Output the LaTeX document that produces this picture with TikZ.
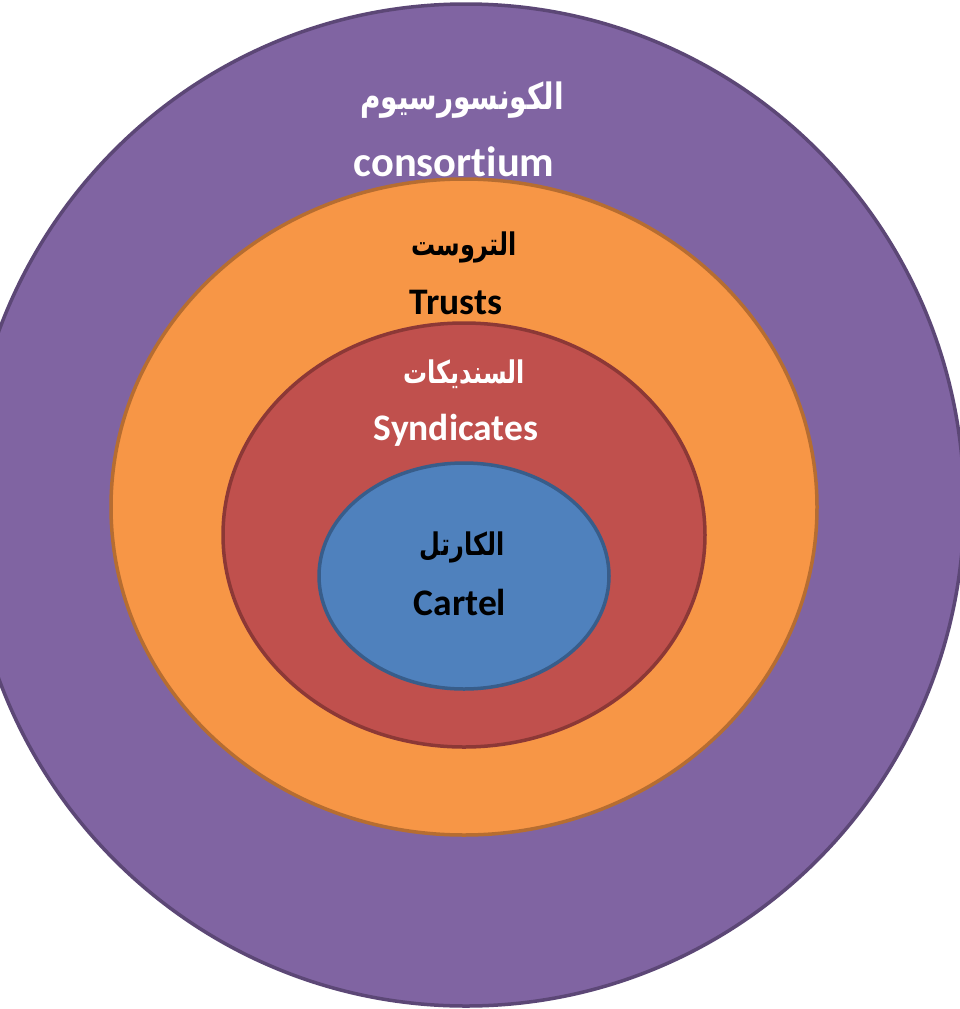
\documentclass[tikz,border=0pt]{standalone}
\usepackage{fontspec}
\usepackage{graphicx}
\setmainfont{Carlito}[Ligatures=NoCommon]
\newfontfamily\arabicfont[Script=Arabic]{DejaVu Sans}
\TeXXeTstate=1
\newcommand{\artxt}[1]{\scalebox{1}[1.3]{\arabicfont\beginR #1\endR}}
\definecolor{cpurple}{HTML}{8064A2}
\definecolor{cpurpleb}{HTML}{5C4776}
\definecolor{corange}{HTML}{F79646}
\definecolor{coranged}{HTML}{B66D31}
\definecolor{cred}{HTML}{C0504D}
\definecolor{credb}{HTML}{8C3836}
\definecolor{cblue}{HTML}{4F81BD}
\definecolor{cblueb}{HTML}{385D8A}
\tikzset{
  ring/.style={line width=3.5pt},
  lat/.style={font=\fontsize{37.5}{44}\selectfont\bfseries, inner sep=0pt},
  latbig/.style={font=\fontsize{42.5}{50}\selectfont\bfseries, inner sep=0pt},
  arabig/.style={font=\fontsize{28}{34}\selectfont\bfseries, inner sep=0pt},
  ara/.style={font=\fontsize{24}{30}\selectfont\bfseries, inner sep=0pt},
}
\begin{document}
\begin{tikzpicture}[x=1pt,y=-1pt]
\useasboundingbox (0,0) rectangle (960,1009);
\fill[white] (0,0) rectangle (960,1009);
\draw[ring, fill=cpurple, draw=cpurpleb] (466,505) ellipse [x radius=498, y radius=501];
\draw[ring, fill=corange, draw=coranged] (464,507) ellipse [x radius=353, y radius=328];
\draw[ring, fill=cred, draw=credb] (464,535) ellipse [x radius=241, y radius=212];
\draw[ring, fill=cblue, draw=cblueb] (464,576) ellipse [x radius=145, y radius=113];
\node[arabig, text=white] (ar1) at (462,100) {\artxt{الكونسورسيوم}};
\node[latbig, text=white] (en1) at (454,162) {consor\kern0pt tium};
\node[ara, text=black] (ar2) at (464,247) {\artxt{التروست}};
\node[lat, text=black] (en2) at (456,302) {Trusts};
\node[ara, text=white] (ar3) at (464,374) {\artxt{السنديكات}};
\node[lat, text=white] (en3) at (456,430) {Syndicates};
\node[ara, text=black] (ar4) at (462,547) {\artxt{الكارتل}};
\node[lat, text=black] (en4) at (460,602) {Cartel};
\end{tikzpicture}
\end{document}
